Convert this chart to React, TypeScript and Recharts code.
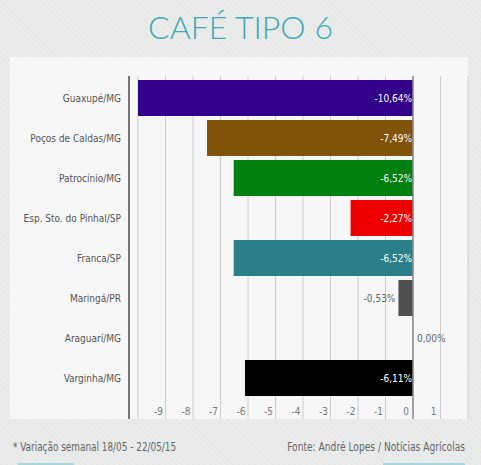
import React from 'react';
import {
    BarChart,
    Bar,
    Cell,
    XAxis,
    YAxis,
    CartesianGrid,
    ReferenceLine,
    LabelList
} from 'recharts';

const CITIES = [
    'Guaxupé/MG',
    'Poços de Caldas/MG',
    'Patrocínio/MG',
    'Esp. Sto. do Pinhal/SP',
    'Franca/SP',
    'Maringá/PR',
    'Araguarí/MG',
    'Varginha/MG',
];
const VARIATION = [-10.64, -7.49, -6.52, -2.27, -6.52, -0.53, 0, -6.11];
const COLORS = ['#32008a', '#80520a', '#00800f', '#ee0000', '#2a7f8a', '#505050', 'none', '#000000'];
const X_TICKS = [-10, -9, -8, -7, -6, -5, -4, -3, -2, -1, 0, 1, 2];

const FONT = '"DejaVu Sans", sans-serif';
const COND = { fontFamily: FONT, fontStretch: 'condensed' as const };

const fmt = (v: number) => v.toFixed(2).replace('.', ',') + '%';

const data = CITIES.map((name, i) => ({ name, value: VARIATION[i], label: fmt(VARIATION[i]) }));

const XTick = ({ x, y, payload }: any) => {
    if (payload.value === -10 || payload.value === 2) return <g />;
    return (
        <text x={x - 7} y={y - 6} textAnchor="middle" fontSize={10} fill="#777" style={COND}>
            {payload.value}
        </text>
    );
};

const YTick = ({ x, y, payload }: any) => (
    <text x={x} y={y + 4} textAnchor="end" fontSize={10} fill="#555" style={COND}>
        {payload.value}
    </text>
);

const ValueLabel = (props: any) => {
    const { x, y, width, height, value } = props;
    const v = parseFloat(String(value).replace(',', '.'));
    const left = Math.min(x, x + width);
    const right = Math.max(x, x + width);
    const cy = y + height / 2 + 4;
    if (v === 0) {
        return <text x={left + 4} y={cy} fontSize={10} fill="#666" style={COND}>{value}</text>;
    }
    if (right - left < 30) {
        return <text x={left - 3} y={cy} textAnchor="end" fontSize={10} fill="#666" style={COND}>{value}</text>;
    }
    return <text x={right - 1} y={cy} textAnchor="end" fontSize={10} fill="#fff" style={COND}>{value}</text>;
};

export default function App() {
    return (
        <div style={{
            position: 'absolute', left: 0, top: 0, width: 481, height: 465, overflow: 'hidden',
            background: 'repeating-linear-gradient(45deg, #e6e7e7 0px, #e6e7e7 2px, #ebecec 2px, #ebecec 4px)'
        }}>
            <div style={{
                position: 'absolute', left: 0, top: 7, width: 481, textAlign: 'center',
                fontFamily: 'Lato, "Open Sans", sans-serif', fontWeight: 300, fontSize: 32, color: '#3ea8b4'
            }}>
                CAFÉ TIPO 6
            </div>
            <div style={{ position: 'absolute', left: 10, top: 57, width: 458, height: 362, background: '#f7f7f7' }} />
            <div style={{ position: 'absolute', left: 0, top: 0 }}>
                <BarChart
                    width={481}
                    height={465}
                    data={data}
                    layout="vertical"
                    margin={{ top: 76, right: 13, bottom: 45, left: 10 }}
                >
                    <CartesianGrid horizontal={false} stroke="#cccccc" />
                    <XAxis
                        type="number"
                        domain={[-10, 2]}
                        ticks={X_TICKS}
                        allowDataOverflow
                        padding={{ left: 9, right: 0 }}
                        axisLine={false}
                        tickLine={false}
                        tickSize={0}
                        height={1}
                        tick={<XTick />}
                        interval={0}
                    />
                    <YAxis
                        type="category"
                        dataKey="name"
                        width={119}
                        padding={{ top: 2, bottom: 21 }}
                        axisLine={{ stroke: '#777', strokeWidth: 2 }}
                        tickLine={false}
                        tick={<YTick />}
                        interval={0}
                    />
                    <ReferenceLine x={0} stroke="#8a8a8a" strokeWidth={1.5} />
                    <Bar dataKey="value" barSize={36} minPointSize={1} isAnimationActive={false}>
                        {data.map((d, i) => (
                            <Cell key={d.name} fill={COLORS[i]} />
                        ))}
                        <LabelList dataKey="label" content={<ValueLabel />} />
                    </Bar>
                </BarChart>
            </div>
            <div style={{
                position: 'absolute', left: 13, top: 439, ...COND, fontSize: 13, color: '#666',
                whiteSpace: 'nowrap', transform: 'scaleX(0.76)', transformOrigin: 'left'
            }}>
                * Variação semanal 18/05 - 22/05/15
            </div>
            <div style={{
                position: 'absolute', right: 16, top: 439, ...COND, fontSize: 13, color: '#666',
                whiteSpace: 'nowrap', transform: 'scaleX(0.78)', transformOrigin: 'right'
            }}>
                Fonte: André Lopes / Notícias Agrícolas
            </div>
            <div style={{ position: 'absolute', left: 18, top: 463, width: 56, height: 2, background: '#a8d4da' }} />
            <div style={{ position: 'absolute', left: 383, top: 463, width: 82, height: 2, background: '#a8d4da' }} />
        </div>
    );
}
